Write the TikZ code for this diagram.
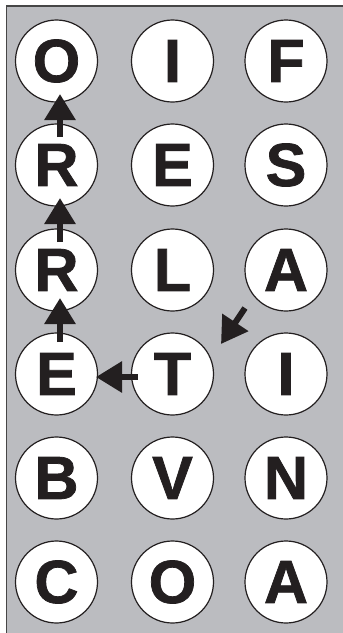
\documentclass[tikz,border=0pt]{standalone}
\usepackage{fontspec}
\setmainfont{Liberation Sans}
\newfontfamily\letterfont{Liberation Sans}[BoldFeatures={FakeBold=1.2}]
\usetikzlibrary{arrows.meta,calc}
\definecolor{bg}{RGB}{187,188,192}
\definecolor{ink}{RGB}{35,31,32}
\definecolor{frame}{RGB}{70,70,70}
\tikzset{
  letter/.style={circle,draw=ink,line width=1.2pt,fill=white,minimum size=82pt,inner sep=0pt,
    font=\letterfont\bfseries\fontsize{61}{61}\selectfont,text=ink},
  arr/.style={color=ink,line width=6pt,-{Triangle[length=26pt,width=30pt]}}
}
\begin{document}
\begin{tikzpicture}
\useasboundingbox (0,0) rectangle (343pt,-633pt);
\fill[bg] (6.5pt,-6pt) rectangle (343pt,-633pt);
\draw[frame,line width=1.5pt] (6.5pt,-633pt) -- (6.5pt,-6pt) -- (343pt,-6pt);
% row 1
\node[letter] (o1) at (56.5pt,-61pt) {O};
\node[letter] (i1) at (172.5pt,-61pt) {I};
\node[letter] (f1) at (286pt,-61pt) {F};
% row 2
\node[letter] (r2) at (56.5pt,-165pt) {R};
\node[letter] (e2) at (172.5pt,-165pt) {E};
\node[letter] (s2) at (286pt,-165pt) {S};
% row 3
\node[letter] (r3) at (56.5pt,-270pt) {R};
\node[letter] (l3) at (172.5pt,-270pt) {L};
\node[letter] (a3) at (286pt,-270pt) {A};
% row 4
\node[letter] (e4) at (56.5pt,-374pt) {E};
\node[letter] (t4) at (172.5pt,-374pt) {T};
\node[letter] (i4) at (286pt,-374pt) {I};
% row 5
\node[letter] (b5) at (56.5pt,-478pt) {B};
\node[letter] (v5) at (172.5pt,-478pt) {V};
\node[letter] (n5) at (286pt,-478pt) {N};
% row 6
\node[letter] (c6) at (56.5pt,-582pt) {C};
\node[letter] (o6) at (172.5pt,-582pt) {O};
\node[letter] (a6) at (286pt,-582pt) {A};
% arrows
\draw[arr] ($(r2.center)+(3.5pt,28pt)$) -- ($(o1.center)+(3.5pt,-33pt)$);
\draw[arr] ($(r3.center)+(3.5pt,28pt)$) -- ($(r2.center)+(3.5pt,-33pt)$);
\draw[arr] ($(e4.center)+(3.5pt,32pt)$) -- ($(r3.center)+(3.5pt,-28pt)$);
\draw[arr] ($(t4.center)+(-34.5pt,-3pt)$) -- ($(e4.center)+(39.5pt,-3pt)$);
\draw[arr] ($(a3.center)+(-41pt,-38pt)$) -- ($(t4.center)+(48.5pt,30pt)$);
\end{tikzpicture}
\end{document}
